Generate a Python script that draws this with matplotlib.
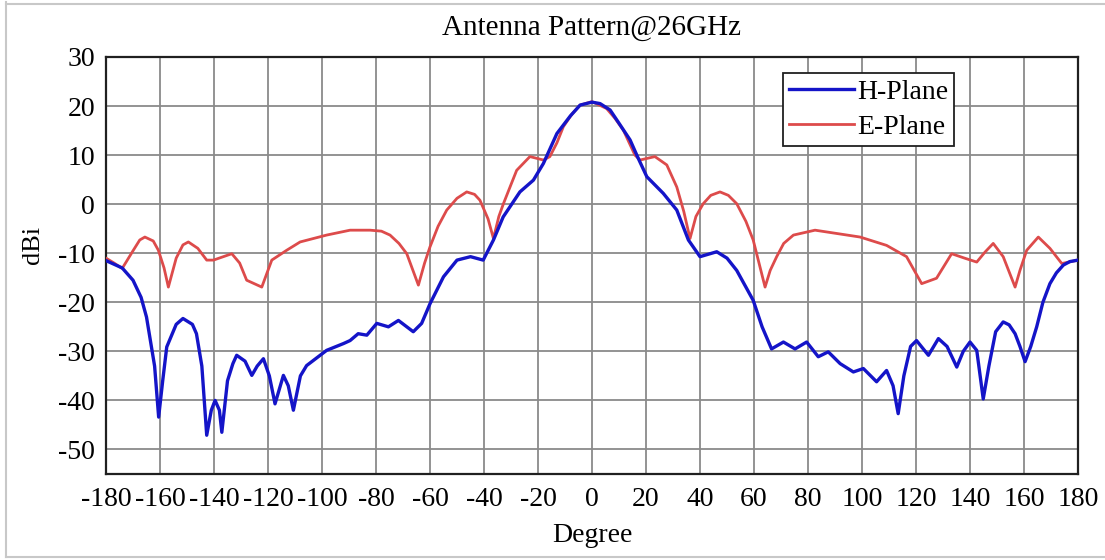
import matplotlib
matplotlib.use('Agg')
import matplotlib.pyplot as plt
from matplotlib.lines import Line2D

# H-Plane (blue)
h_deg = [-180, -174, -170, -167, -165, -162, -160.5, -159, -157.5, -154, -151.5, -148, -146.5,
         -144.5, -142.7, -141, -139.6, -138, -137.1, -135, -133, -131.6, -128.5, -126, -124, -121.7,
         -119.5, -117.4, -114.3, -112.5, -110.6, -108, -105.7, -98.3, -92, -89.6, -86.6,
         -83.4, -79.7, -75.4, -71.7, -66.2, -63.1, -60, -55, -50, -45, -40.3, -36.5, -32.9,
         -26.7, -21.7, -18, -13, -8, -4.4, 0, 3, 6.7, 10, 14.1, 17, 20.3, 26.4, 31.4, 35.7,
         40, 46.2, 50, 53.6, 59.7, 63, 66.5, 70.9, 75.2, 79.5, 83.8, 87.5, 91.9, 96.8,
         100.5, 105.4, 109.1, 111.5, 113.4, 115.5, 118, 120.2, 124.6, 128.3, 131.5, 135.1,
         137.5, 140, 142.5, 144.9, 147, 149.5, 152.3, 154.5, 156.7, 158.5, 160.4, 162.5, 164.7,
         167, 169.6, 172, 174.6, 177, 180]
h_db = [-11.5, -13.0, -15.5, -19.0, -23.0, -33.0, -43.4, -36.0, -29.1, -24.5, -23.3, -24.5, -26.4,
        -33.0, -47.1, -42.0, -40.0, -42.0, -46.5, -36.0, -32.5, -30.8, -32.0, -34.9, -33.0, -31.5,
        -35.0, -40.7, -34.9, -37.0, -42.0, -35.0, -32.9, -29.8, -28.4, -27.8, -26.4,
        -26.7, -24.3, -25.0, -23.7, -26.0, -24.3, -20.3, -14.8, -11.4, -10.7, -11.4, -7.3, -2.6,
        2.5, 4.9, 8.3, 14.4, 18.0, 20.2, 20.8, 20.5, 19.2, 16.5, 13.1, 9.5, 5.6, 2.2, -1.2, -7.3,
        -10.7, -9.7, -11.0, -13.5, -19.6, -25.0, -29.5, -28.1, -29.5, -28.1, -31.1, -30.1, -32.5, -34.2,
        -33.5, -36.2, -33.9, -37.0, -42.7, -35.0, -29.0, -27.8, -30.8, -27.4, -29.0, -33.2,
        -30.0, -28.1, -29.8, -39.7, -33.0, -26.0, -24.0, -24.6, -26.4, -29.0, -32.1, -29.0, -25.0,
        -20.0, -16.2, -14.0, -12.4, -11.7, -11.4]

# E-Plane (red)
e_deg = [-180, -177, -174, -170, -167.5, -165.6, -162.5, -160.6, -158.5, -156.9, -154, -151.5,
         -149.5, -146, -142.7, -140.2, -133.4, -130.5, -127.9, -122.3, -118.6, -113.1, -108.1,
         -98.3, -89.6, -82.2, -78, -74.8, -71.5, -68.6, -64.3, -62, -60, -57, -53.8, -50, -46.4,
         -43.5, -41.5, -38.5, -36.5, -34.5, -32.8, -30, -27.9, -23, -18, -15.6, -13, -10.6, -7.5,
         -4.4, 0, 5.4, 8.5, 11.6, 15.9, 17.8, 23.3, 27.7, 31.4, 34, 36.3, 38.5, 41.2, 44, 47.4,
         50.5, 53.6, 57, 59.7, 64.1, 66, 68.4, 71, 74.6, 82.6, 99.3, 109.1, 116.5, 122.1, 127.6,
         133.2, 138, 142.5, 145.5, 148.6, 152.3, 156.7, 158.5, 161, 165.3, 169.6, 174, 180]
e_db = [-11.0, -12.0, -13.1, -9.5, -7.3, -6.7, -7.5, -9.4, -13.0, -16.9, -11.0, -8.3,
        -7.7, -9.0, -11.4, -11.4, -10.1, -12.0, -15.5, -16.9, -11.4, -9.4, -7.7,
        -6.3, -5.3, -5.3, -5.5, -6.3, -8.0, -10.1, -16.5, -12.0, -8.7, -4.5, -1.2, 1.2, 2.5,
        2.0, 0.8, -3.0, -7.0, -2.5, 0.1, 4.0, 6.9, 9.7, 9.0, 9.7, 12.5, 15.8, 18.3,
        20.2, 20.9, 19.5, 17.5, 15.1, 10.0, 9.0, 9.7, 8.0, 3.5, -1.5, -7.0, -2.5, 0.1, 1.8, 2.5,
        1.8, 0.1, -3.5, -7.3, -16.9, -13.5, -10.7, -8.0, -6.3, -5.3, -6.7, -8.4, -10.7, -16.2, -15.1,
        -10.1, -11.0, -11.8, -9.8, -8.0, -10.7, -16.9, -13.5, -9.4, -6.7, -9.0, -12.1, -11.4]

x_ticks = list(range(-180, 181, 20))
y_ticks = list(range(-50, 31, 10))

plt.rcParams['font.family'] = ['Liberation Serif', 'DejaVu Serif']
plt.rcParams['axes.unicode_minus'] = False

fig = plt.figure(figsize=(11.05, 5.6), dpi=100)
ax = fig.add_axes([106 / 1105, 1 - 474 / 560, 972 / 1105, 417 / 560])

ax.plot(e_deg, e_db, color='#DD4B4B', linewidth=2.0, label='E-Plane', zorder=3,
        solid_joinstyle='round')
ax.plot(h_deg, h_db, color='#1414C8', linewidth=2.4, label='H-Plane', zorder=4,
        solid_joinstyle='round')

ax.set_xlim(-180, 180)
ax.set_ylim(-55, 30)
ax.set_xticks(x_ticks)
ax.set_yticks(y_ticks)
ax.tick_params(length=0, labelsize=20, colors='black')
ax.tick_params(axis='y', pad=8)
ax.tick_params(axis='x', pad=9)
ax.grid(True, color='#8a8a8a', linewidth=1.3)
ax.set_axisbelow(True)
for s in ax.spines.values():
    s.set_linewidth(1.6)
    s.set_color('#202020')

ax.text(0.5, (474 - 28) / 417, 'Antenna Pattern@26GHz', transform=ax.transAxes,
        fontsize=21, ha='center', va='center')
ax.set_xlabel('Degree', fontsize=20, va='center')
ax.xaxis.set_label_coords(0.5, (474 - 535) / 417)
ax.set_ylabel('dBi', fontsize=19, va='center')
ax.yaxis.set_label_coords((33 - 106) / 972, (474 - 245) / 417)

handles, labels = ax.get_legend_handles_labels()
leg = ax.legend(handles[::-1], labels[::-1], loc='upper left',
                bbox_to_anchor=((783 - 106) / 972, 1 - (73 - 57) / 417),
                fontsize=20, frameon=True, fancybox=False, handlelength=2.35,
                handletextpad=0.1, borderpad=0.22, labelspacing=0.35, borderaxespad=0)
leg.get_frame().set_edgecolor('#202020')
leg.get_frame().set_linewidth(1.3)
leg.get_frame().set_alpha(1)

# light screenshot frame
for xs, ys in [([6, 6], [2, 557]), ([6, 1104], [4, 4]), ([6, 1104], [557, 557])]:
    fig.add_artist(Line2D([x / 1105 for x in xs], [1 - y / 560 for y in ys],
                          color='#c8c8c8', linewidth=1.5))

fig.savefig('out.png', dpi=100)
